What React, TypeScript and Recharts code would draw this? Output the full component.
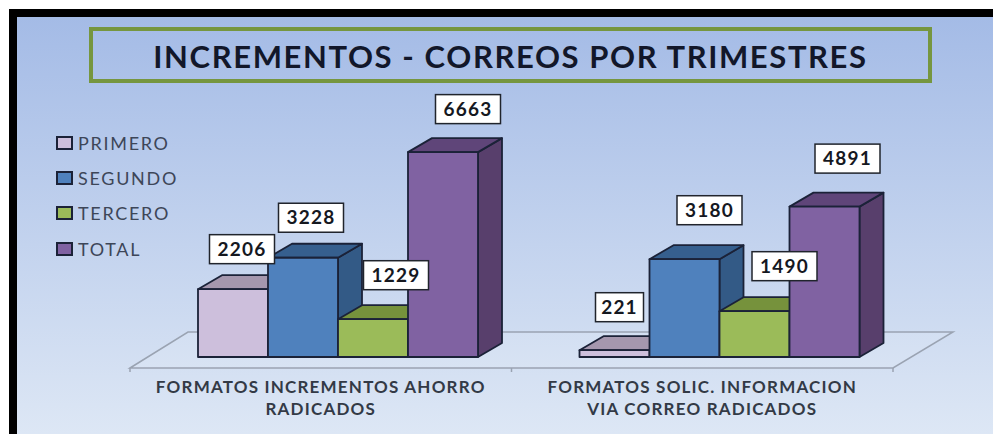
import { Bar, BarChart, LabelList, Legend, ReferenceArea, XAxis, YAxis } from "recharts";

const categories = ["FORMATOS INCREMENTOS AHORRO|RADICADOS", "FORMATOS SOLIC. INFORMACION|VIA CORREO RADICADOS"];
const primero = [2206, 221];
const segundo = [3228, 3180];
const tercero = [1229, 1490];
const total = [6663, 4891];

const rows = categories.map((name, i) => ({
  name,
  PRIMERO: primero[i],
  SEGUNDO: segundo[i],
  TERCERO: tercero[i],
  TOTAL: total[i],
}));

const DX = 24;
const DY = 14;
const EDGE = "#1b2238";

function Box3D({ x, y, width, height, fill, top, side }: any) {
  const r = x + width;
  const b = y + height;
  return (
    <g stroke={EDGE} strokeWidth={1.8} strokeLinejoin="round">
      <polygon points={`${r},${y} ${r + DX},${y - DY} ${r + DX},${b - DY} ${r},${b}`} fill={side} />
      <polygon points={`${x},${y} ${x + DX},${y - DY} ${r + DX},${y - DY} ${r},${y}`} fill={top} />
      <rect x={x} y={y} width={width} height={height} fill={fill} />
    </g>
  );
}

function Floor({ x, y, width, height }: any) {
  const base = y + height;
  const fl = x - 17;
  const fr = x + width - 17;
  const mid = (fl + fr) / 2;
  return (
    <g stroke="#9aa3b2" strokeWidth={1.5} fill="none">
      <polygon points={`${fl},${base + 11} ${x + 41},${base - 25} ${x + width + 43},${base - 25} ${fr},${base + 11}`} fill="#ffffff" fillOpacity={0.1} />
      <path d={`M${fl},${base + 11}v4M${mid},${base + 11}v4M${fr},${base + 11}v4`} />
    </g>
  );
}

function valueBox(nudges: number[][]) {
  return ({ x, y, width, value, index }: any) => {
    const w = String(value).length > 3 ? 65 : 48;
    const cx = x + width / 2 + nudges[index][0];
    const cy = y + nudges[index][1];
    return (
      <g>
        <rect x={cx - w / 2} y={cy - 14.5} width={w} height={29} fill="#ffffff" stroke="#20242c" strokeWidth={1.5} />
        <text x={cx} y={cy + 6.5} textAnchor="middle" fontFamily="Lato" fontWeight={700} fontSize={19} letterSpacing={1.2} fill="#15181f">
          {value}
        </text>
      </g>
    );
  };
}

function CategoryTick({ x, y, payload }: any) {
  const lines = String(payload.value).split("|");
  return (
    <text x={x - 17} textAnchor="middle" fontFamily="Lato" fontWeight={700} fontSize={17} letterSpacing={1.2} fill="#333a46">
      {lines.map((line, i) => (
        <tspan key={line} x={x - 17} y={y + 28 + i * 22}>
          {line}
        </tspan>
      ))}
    </text>
  );
}

function LegendList({ payload }: any) {
  return (
    <div>
      {(payload ?? []).map((entry: any) => (
        <div key={entry.value} style={{ display: "flex", alignItems: "center", height: 35.3, fontFamily: "Lato", fontSize: 18, letterSpacing: 1.7, color: "#3d4658" }}>
          <span style={{ width: 13, height: 10, marginRight: 5, background: entry.color, border: `2px solid ${EDGE}`, display: "inline-block" }} />
          {entry.value}
        </div>
      ))}
    </div>
  );
}

export default function App() {
  return (
    <div style={{ position: "absolute", left: 0, top: 0, width: 993, height: 434, background: "#ffffff", overflow: "hidden" }}>
      <div
        style={{
          position: "absolute",
          left: 9,
          top: 9,
          width: 976,
          height: 417,
          borderTop: "8px solid #000",
          borderLeft: "8px solid #000",
          background: "linear-gradient(180deg, #a4bbe6 0%, #dde7f5 100%)",
        }}
      />
      <div
        style={{
          position: "absolute",
          left: 89,
          top: 27,
          width: 835,
          height: 48,
          border: "4px solid #76963f",
          textAlign: "center",
          lineHeight: "51px",
          fontFamily: "Lato",
          fontWeight: 700,
          fontSize: 31,
          letterSpacing: 1.6,
          color: "#12172a",
          whiteSpace: "nowrap",
        }}
      >
        INCREMENTOS - CORREOS POR TRIMESTRES
      </div>
      <div style={{ position: "absolute", left: 0, top: 0 }}>
        <BarChart width={993} height={434} data={rows} barSize={70} barGap={0} margin={{ top: 111, right: 83, bottom: 17, left: 147 }}>
          <XAxis dataKey="name" axisLine={false} tickLine={false} height={60} interval={0} tick={<CategoryTick />} />
          <YAxis hide domain={[0, 8000]} />
          <ReferenceArea y1={0} y2={8000} shape={<Floor />} />
          <Legend
            layout="horizontal"
            verticalAlign="middle"
            content={<LegendList />}
            wrapperStyle={{ position: "absolute", left: 56, top: 125, width: 130, height: 142 }}
          />
          <Bar dataKey="PRIMERO" fill="#cdbfdc" isAnimationActive={false} shape={(p: any) => <Box3D {...p} top="#a597ae" side="#a597ae" />}>
            <LabelList dataKey="PRIMERO" content={valueBox([[9, -40], [5, -43]])} />
          </Bar>
          <Bar dataKey="SEGUNDO" fill="#4f81bd" isAnimationActive={false} shape={(p: any) => <Box3D {...p} top="#365f8e" side="#335a86" />}>
            <LabelList dataKey="SEGUNDO" content={valueBox([[8, -40], [25, -49]])} />
          </Bar>
          <Bar dataKey="TERCERO" fill="#9bbb59" isAnimationActive={false} shape={(p: any) => <Box3D {...p} top="#76923c" side="#76923c" />}>
            <LabelList dataKey="TERCERO" content={valueBox([[23, -44], [30, -45]])} />
          </Bar>
          <Bar dataKey="TOTAL" fill="#8062a2" isAnimationActive={false} shape={(p: any) => <Box3D {...p} top="#5f4579" side="#583f6c" />}>
            <LabelList dataKey="TOTAL" content={valueBox([[25, -43], [23, -48]])} />
          </Bar>
        </BarChart>
      </div>
    </div>
  );
}
